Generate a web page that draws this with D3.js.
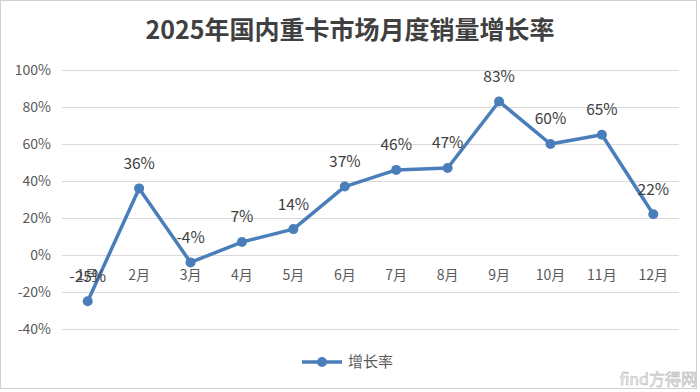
<!DOCTYPE html>
<html>
<head>
<meta charset="utf-8">
<script src="https://cdn.jsdelivr.net/npm/d3@7"></script>
<style>
  body { margin: 0; background: #fff; }
  svg { display: block; }
</style>
</head>
<body>
<div id="chart"></div>
<script>
const months = ["1月", "2月", "3月", "4月", "5月", "6月", "7月", "8月", "9月", "10月", "11月", "12月"];
const growth = [-25, 36, -4, 7, 14, 37, 46, 47, 83, 60, 65, 22];
const yTicks = [-40, -20, 0, 20, 40, 60, 80, 100];
const title = "2025年国内重卡市场月度销量增长率";
const seriesName = "增长率";

const width = 700, height = 392;
const margin = { top: 70, left: 62, right: 21, bottom: 63 };
const color = "#4a7ebb";
const font = "'Noto Sans CJK SC', 'Open Sans', sans-serif";

const svg = d3.select("#chart").append("svg")
  .attr("width", width)
  .attr("height", height);

// outer border
svg.append("rect")
  .attr("x", 0.5).attr("y", 0.5)
  .attr("width", width - 4).attr("height", height - 4)
  .attr("fill", "#fff")
  .attr("stroke", "#d0d0d0");

svg.append("text")
  .attr("x", 350).attr("y", 39)
  .attr("text-anchor", "middle")
  .style("font-family", font)
  .style("font-weight", "bold")
  .style("font-size", "25px")
  .style("fill", "#404040")
  .text(title);

const x = d3.scaleBand()
  .domain(months)
  .range([margin.left, width - margin.right]);

const y = d3.scaleLinear()
  .domain([-40, 100])
  .range([329, 70]);

// gridlines
svg.append("g")
  .selectAll("line")
  .data(yTicks)
  .enter()
  .append("line")
  .attr("x1", margin.left).attr("x2", width - margin.right)
  .attr("y1", d => Math.round(y(d)) + 0.5)
  .attr("y2", d => Math.round(y(d)) + 0.5)
  .attr("stroke", "#d9d9d9")
  .attr("stroke-width", 1);

// y axis labels
svg.append("g")
  .selectAll("text")
  .data(yTicks)
  .enter()
  .append("text")
  .attr("x", 51)
  .attr("y", d => y(d))
  .attr("dy", "0.35em")
  .attr("text-anchor", "end")
  .style("font-family", font)
  .style("font-size", "14px")
  .style("fill", "#595959")
  .text(d => d + "%");

// category labels next to the zero line
svg.append("g")
  .selectAll("text")
  .data(months)
  .enter()
  .append("text")
  .attr("x", d => x(d) + x.bandwidth() / 2)
  .attr("y", y(0) + 20)
  .attr("dy", "0.35em")
  .attr("text-anchor", "middle")
  .style("font-family", font)
  .style("font-size", "14px")
  .style("fill", "#595959")
  .text(d => d);

const line = d3.line()
  .x((d, i) => x(months[i]) + x.bandwidth() / 2)
  .y(d => y(d));

svg.append("path")
  .datum(growth)
  .attr("fill", "none")
  .attr("stroke", color)
  .attr("stroke-width", 3.5)
  .attr("stroke-linejoin", "round")
  .attr("d", line);

svg.append("g")
  .selectAll("circle")
  .data(growth)
  .enter()
  .append("circle")
  .attr("cx", (d, i) => x(months[i]) + x.bandwidth() / 2)
  .attr("cy", d => y(d))
  .attr("r", 5)
  .attr("fill", color);

// data labels
svg.append("g")
  .selectAll("text")
  .data(growth)
  .enter()
  .append("text")
  .attr("x", (d, i) => x(months[i]) + x.bandwidth() / 2)
  .attr("y", d => y(d) - 25)
  .attr("dy", "0.35em")
  .attr("text-anchor", "middle")
  .style("font-family", font)
  .style("font-size", "15.5px")
  .style("fill", "#404040")
  .text(d => d + "%");

// legend
const lg = svg.append("g").attr("transform", "translate(302,362)");
lg.append("line")
  .attr("x1", 0).attr("x2", 40)
  .attr("stroke", color).attr("stroke-width", 3.5);
lg.append("circle")
  .attr("cx", 20).attr("r", 5).attr("fill", color);
lg.append("text")
  .attr("x", 46).attr("dy", "0.35em")
  .style("font-family", font)
  .style("font-size", "15px")
  .style("fill", "#595959")
  .text(seriesName);

// watermark
svg.append("text")
  .attr("x", 697).attr("y", 385)
  .attr("text-anchor", "end")
  .style("font-family", font)
  .style("font-size", "16px")
  .style("fill", "#f2f2f2")
  .style("stroke", "#bbb")
  .style("stroke-width", 0.6)
  .text("find方得网");
</script>
</body>
</html>
